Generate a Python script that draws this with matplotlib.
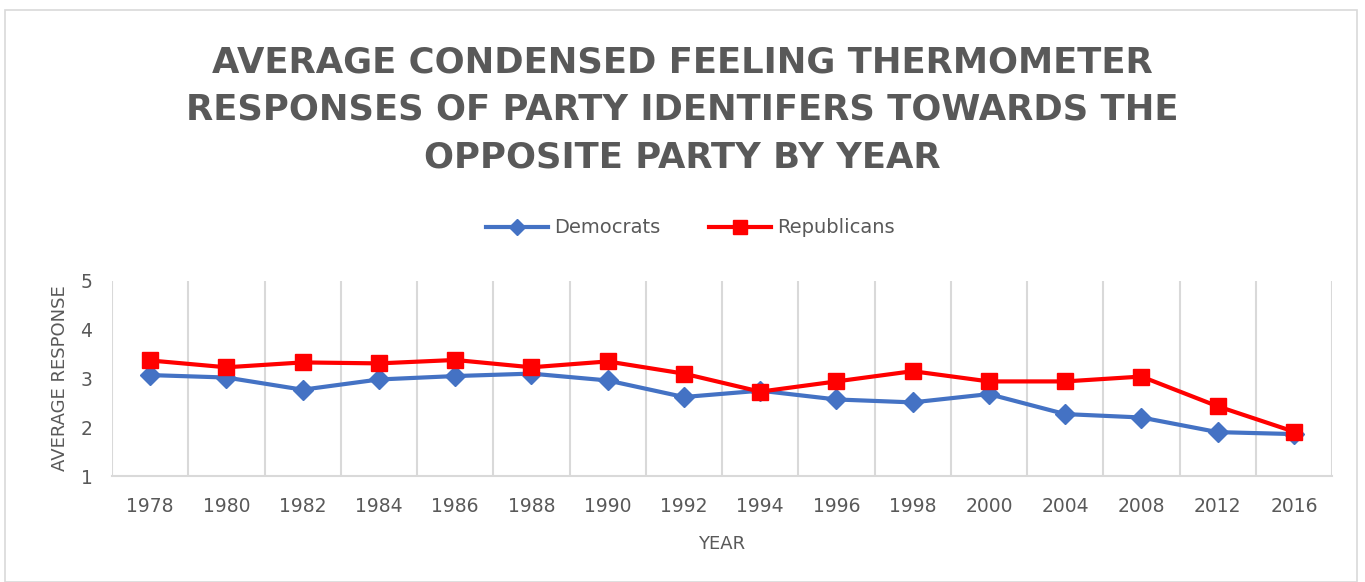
import matplotlib.pyplot as plt
from matplotlib.patches import Rectangle

# Daten
years = ["1978", "1980", "1982", "1984", "1986", "1988", "1990", "1992",
         "1994", "1996", "1998", "2000", "2004", "2008", "2012", "2016"]
democrats = [3.07, 3.02, 2.77, 2.98, 3.05, 3.10, 2.96, 2.62,
             2.75, 2.57, 2.51, 2.68, 2.27, 2.20, 1.90, 1.86]
republicans = [3.37, 3.23, 3.33, 3.31, 3.38, 3.23, 3.35, 3.10,
               2.73, 2.94, 3.15, 2.94, 2.94, 3.04, 2.43, 1.91]

gray = "#595959"
grid_gray = "#d9d9d9"

fig = plt.figure(figsize=(13.65, 5.82), dpi=100)
ax = fig.add_axes([112 / 1365, 1 - 476 / 582, 1220 / 1365, 195 / 582])

x = list(range(len(years)))
ax.plot(x, democrats, color="#4472c4", lw=3, marker="D", ms=10, label="Democrats")
ax.plot(x, republicans, color="#ff0000", lw=3, marker="s", ms=12, label="Republicans")

ax.set_xlim(-0.5, len(years) - 0.5)
ax.set_ylim(1, 5)
ax.set_yticks([1, 2, 3, 4, 5])
ax.set_xticks(x)
ax.set_xticklabels(years)
ax.set_xticks([i - 0.5 for i in range(len(years) + 1)], minor=True)
ax.grid(which="minor", axis="x", color=grid_gray, lw=1.5)
ax.tick_params(which="both", length=0)
ax.tick_params(axis="x", labelsize=13.5, labelcolor=gray, pad=15)
ax.tick_params(axis="y", labelsize=13.5, labelcolor=gray, pad=14)

for side in ["top", "right", "left"]:
    ax.spines[side].set_visible(False)
ax.spines["bottom"].set_color(grid_gray)
ax.spines["bottom"].set_linewidth(1.5)

ax.set_xlabel("YEAR", fontsize=13, color=gray, labelpad=14)
ax.set_ylabel("AVERAGE RESPONSE", fontsize=13, color=gray, labelpad=8)

fig.text(0.5, 1 - 110 / 582,
         "AVERAGE CONDENSED FEELING THERMOMETER\nRESPONSES OF PARTY IDENTIFERS TOWARDS THE\nOPPOSITE PARTY BY YEAR",
         ha="center", va="center", fontsize=25.5, fontweight="bold", color=gray,
         linespacing=1.5)

fig.legend(loc="center", bbox_to_anchor=(690 / 1365, 1 - 228 / 582), ncol=2,
           frameon=False, fontsize=14, labelcolor=gray, handlelength=3.2,
           columnspacing=2.5, handletextpad=0.3, markerscale=0.85)

# Rahmen um das Diagramm
fig.patches.append(Rectangle((5 / 1365, 0), 1352 / 1365, 1 - 10 / 582,
                             transform=fig.transFigure, fill=False,
                             edgecolor=grid_gray, lw=1.2))

plt.savefig("out.png", dpi=100)
